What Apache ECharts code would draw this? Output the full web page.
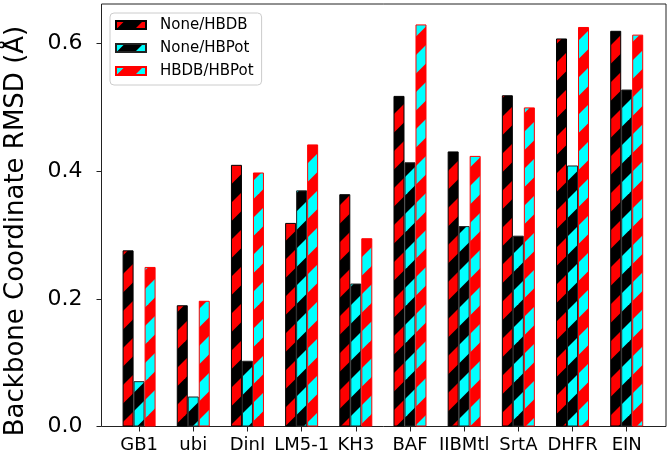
<!DOCTYPE html>
<html>
<head>
<meta charset="utf-8">
<script src="https://cdn.jsdelivr.net/npm/echarts@6/dist/echarts.min.js"></script>
<style>html,body{margin:0;padding:0;background:#fff}#c{width:669px;height:456px}</style>
</head>
<body>
<div id="c"></div>
<script>
const categories = ['GB1','ubi','DinI','LM5-1','KH3','BAF','IIBMtl','SrtA','DHFR','EIN'];
const seriesNames = ['None/HBDB','None/HBPot','HBDB/HBPot'];
const noneHBDB  = [0.276,0.190,0.410,0.319,0.364,0.518,0.431,0.519,0.608,0.620];
const noneHBPot = [0.071,0.047,0.103,0.370,0.224,0.414,0.314,0.299,0.409,0.528];
const hbdbHBPot = [0.250,0.197,0.398,0.442,0.295,0.630,0.424,0.500,0.626,0.614];
const yTicks = [0, 0.2, 0.4, 0.6];
const yLabels = ['0.0','0.2','0.4','0.6'];

const FONT = '"DejaVu Sans", sans-serif';
const P = 37, C0 = 8.5, FRAC = 0.5;
function hatch(face, stripe) {
  const cv = document.createElement('canvas');
  cv.width = P; cv.height = P;
  const ctx = cv.getContext('2d');
  ctx.fillStyle = face; ctx.fillRect(0, 0, P, P);
  ctx.strokeStyle = stripe;
  ctx.lineWidth = FRAC * P / Math.SQRT2;
  for (let k = -2; k <= 3; k++) {
    const c = C0 + FRAC * P / 2 + k * P;
    ctx.beginPath();
    ctx.moveTo(c + 2 * P, -2 * P);
    ctx.lineTo(c - 2 * P, 2 * P);
    ctx.stroke();
  }
  return { image: cv, repeat: 'repeat' };
}
const fills = [hatch('#ff0000', '#000000'), hatch('#00ffff', '#000000'), hatch('#00ffff', '#ff0000')];
const edges = ['#000000', '#222222', '#ff0000'];
const values = [noneHBDB, noneHBPot, hbdbHBPot];

const chart = echarts.init(document.getElementById('c'), null, { renderer: 'canvas' });
const YMAX = 0.662;
chart.setOption({
  animation: false,
  textStyle: { fontFamily: FONT },
  grid: [
    { left: 112, right: 15.2, top: 4, bottom: 29.5 },
    { left: 101.5, right: 3, top: 4, bottom: 29.5, show: true, borderColor: '#222', borderWidth: 1, backgroundColor: 'transparent', z: 0 }
  ],
  xAxis: [
    { type: 'category', gridIndex: 0, data: categories,
      axisLine: { show: false },
      axisTick: { show: true, alignWithLabel: true, length: 5, lineStyle: { color: '#222' } },
      axisLabel: { fontSize: 18, color: '#000', margin: 10, fontFamily: FONT, interval: 0 } },
    { type: 'value', gridIndex: 1, min: 0, max: 1, show: false }
  ],
  yAxis: [
    { type: 'value', gridIndex: 0, min: 0, max: YMAX, show: false, splitLine: { show: false } },
    { type: 'value', gridIndex: 1, min: 0, max: YMAX,
      axisLine: { show: false },
      splitLine: { show: false },
      axisTick: { show: true, length: 5, lineStyle: { color: '#222' }, customValues: yTicks },
      axisLabel: { fontSize: 22, color: '#000', margin: 19, fontFamily: FONT, customValues: yTicks,
        formatter: v => yLabels[yTicks.findIndex(t => Math.abs(t - v) < 1e-9)] || '' } }
  ],
  legend: {
    orient: 'vertical', left: 110, top: 13,
    itemWidth: 30, itemHeight: 8, itemGap: 7,
    padding: [4, 8, 6, 5],
    borderColor: '#cccccc', borderWidth: 1, borderRadius: 4,
    backgroundColor: 'rgba(255,255,255,0.8)',
    icon: 'rect',
    textStyle: { fontSize: 15, color: '#000', fontFamily: FONT, lineHeight: 16, padding: [0, 0, 0, 9] },
    data: seriesNames
  },
  series: seriesNames.map((name, i) => ({
    name, type: 'bar', xAxisIndex: 0, yAxisIndex: 0,
    data: values[i], barWidth: 11, barGap: '0%',
    itemStyle: { color: fills[i], borderColor: edges[i], borderWidth: 1 }
  })),
  graphic: [{
    type: 'text', x: 16, y: 231, rotation: Math.PI / 2,
    style: { text: 'Backbone Coordinate RMSD (Å)', font: '26px ' + FONT, fill: '#000',
      textAlign: 'center', textVerticalAlign: 'middle' }
  }]
});
</script>
</body>
</html>
